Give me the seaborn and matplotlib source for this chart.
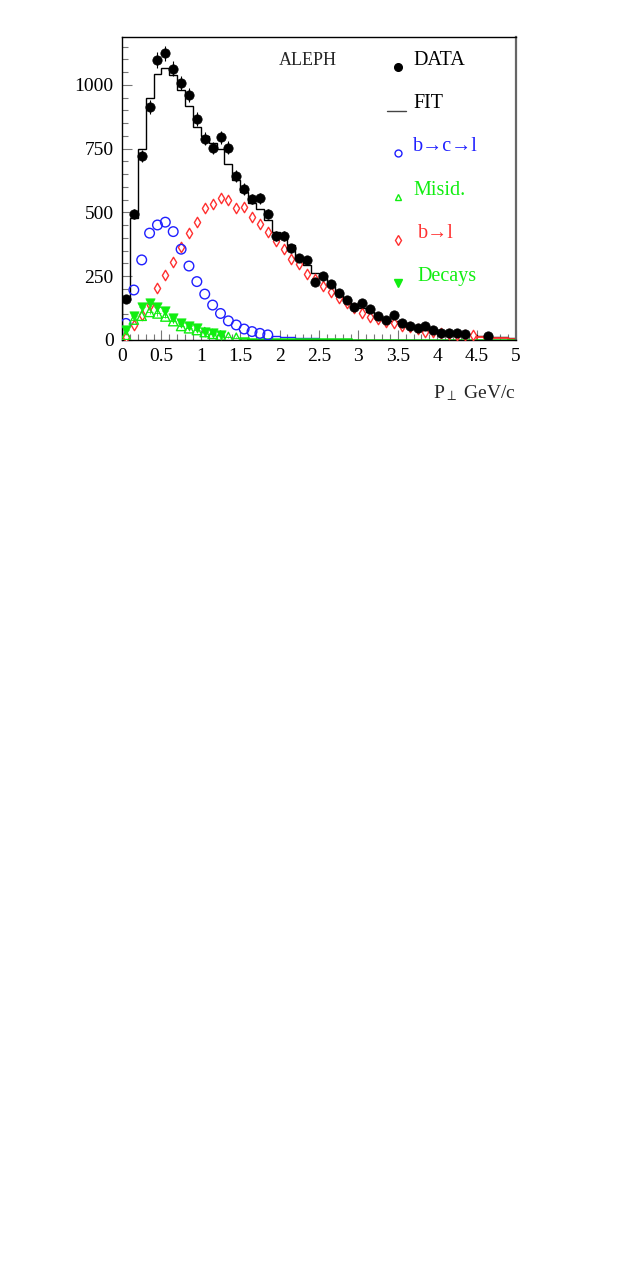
import numpy as np
import pandas as pd
import seaborn as sns
import matplotlib
matplotlib.use('Agg')
import matplotlib.pyplot as plt
from matplotlib.ticker import MultipleLocator

# values (bins of 0.1 GeV/c) ------------------------------------------------
data_x = [0.05, 0.15, 0.25, 0.35, 0.45, 0.55, 0.65, 0.75, 0.85, 0.95,
          1.05, 1.15, 1.25, 1.35, 1.45, 1.55, 1.65, 1.75, 1.85, 1.95,
          2.05, 2.15, 2.25, 2.35, 2.45, 2.55, 2.65, 2.75, 2.85, 2.95,
          3.05, 3.15, 3.25, 3.35, 3.45, 3.55, 3.65, 3.75, 3.85, 3.95,
          4.05, 4.15, 4.25, 4.35, 4.65]
data_y = [160, 494, 722, 915, 1098, 1124, 1063, 1007, 960, 866,
          789, 752, 795, 754, 643, 592, 553, 556, 495, 408,
          408, 360, 320, 314, 229, 251, 218, 186, 157, 128,
          144, 120, 94, 78, 98, 68, 55, 48, 56, 39,
          29, 26, 29, 22, 16]

fit_y = [155, 477, 748, 947, 1042, 1068, 1038, 980, 918, 837,
         800, 774, 748, 692, 627, 579, 536, 514, 471, 425,
         405, 373, 327, 294, 262, 242, 212, 185, 160, 140,
         125, 110, 96, 84, 74, 65, 57, 50, 44, 38,
         33, 29, 26, 23, 20, 17, 15, 13, 11, 6]

bl_y = [13, 59, 98, 137, 203, 255, 307, 364, 419, 464,
        516, 534, 556, 549, 519, 523, 484, 455, 423, 390,
        355, 318, 298, 258, 238, 212, 190, 164, 144, 124,
        105, 91, 81, 72, 65, 55, 50, 42, 33, 30,
        26, 23, 21, 19, 18]
bl_tail = [10, 9, 7, 6, 4]            # red line, bins 4.5-5.0

bcl_y = [65, 196, 314, 419, 451, 462, 425, 356, 290, 229,
         180, 137, 104, 75, 59, 43, 33, 26, 20]
bcl_tail = [16, 13, 11, 9, 7, 6, 5, 4, 3, 2]   # blue line, bins 1.9-2.9

misid_y = [20, 80, 95, 110, 104, 92, 74, 55, 46, 39, 31, 24, 18, 12, 9]
decay_y = [40, 94, 128, 144, 128, 115, 88, 65, 55, 46, 33, 26, 20]
green_tail = [6, 5, 5, 4, 4, 3, 3, 3, 2, 2, 2, 2, 2, 2, 1, 1, 1, 1, 1, 1,
              1, 1, 1, 1, 1, 1, 1, 1, 1, 1, 1, 1, 1, 1, 1]   # bins 1.5-5.0

edges = np.round(np.arange(0, 5.001, 0.1), 2)
centers = edges[:-1] + 0.05

# ---------------------------------------------------------------------------
sns.set_theme(style='ticks')
plt.rcParams['font.family'] = ['Liberation Serif', 'DejaVu Serif']
plt.rcParams['mathtext.fontset'] = 'stix'

fig = plt.figure(figsize=(6.38, 12.64), dpi=100)
ax = fig.add_axes([122 / 638, 1 - 340 / 1264, 394 / 638, 303 / 1264])

blue = '#1f1fff'
red = '#ff3030'
green = '#11ee11'

# fit histogram and component tails
ax.stairs(fit_y, edges, color='black', lw=1.0, zorder=2)
ax.stairs(bl_tail, edges[45:], color=red, lw=1.3, zorder=2)
ax.stairs(bcl_tail, edges[19:30], color=blue, lw=1.0, zorder=2)
ax.stairs(green_tail, edges[15:], color=green, lw=1.8, zorder=2)

# components
n = len(bl_y)
ax.errorbar(centers[:n], bl_y, xerr=0.03, yerr=np.sqrt(bl_y) * 0.6, fmt='none',
            ecolor=red, elinewidth=0.6, zorder=3)
sns.scatterplot(x=centers[:n], y=bl_y, marker='d', s=28, facecolor='white',
                edgecolor=red, linewidth=1.0, ax=ax, zorder=4)

n = len(bcl_y)
sns.scatterplot(x=centers[:n], y=bcl_y, marker='o', s=48, facecolor='none',
                edgecolor=blue, linewidth=1.0, ax=ax, zorder=4)

n = len(misid_y)
ax.errorbar(centers[:n], misid_y, xerr=0.04, yerr=np.sqrt(misid_y) * 0.8, fmt='none',
            ecolor=green, elinewidth=0.6, zorder=3)
sns.scatterplot(x=centers[:n], y=misid_y, marker='^', s=45, facecolor='none',
                edgecolor=green, linewidth=1.0, ax=ax, zorder=4)

n = len(decay_y)
ax.errorbar(centers[:n], decay_y, xerr=0.04, yerr=np.sqrt(decay_y) * 0.8, fmt='none',
            ecolor=green, elinewidth=0.6, zorder=3)
sns.scatterplot(x=centers[:n], y=decay_y, marker='v', s=45, color=green,
                edgecolor=green, linewidth=0.5, ax=ax, zorder=5)

# data
ax.errorbar(data_x, data_y, xerr=0.03, yerr=np.sqrt(data_y) * 0.9, fmt='none',
            ecolor='black', elinewidth=0.8, zorder=5)
sns.scatterplot(x=data_x, y=data_y, marker='o', s=45, color='black',
                edgecolor='black', ax=ax, zorder=6)

# axes
ax.set_xlim(0, 5)
ax.set_ylim(0, 1188)
ax.xaxis.set_major_locator(MultipleLocator(0.5))
ax.xaxis.set_minor_locator(MultipleLocator(0.1))
ax.yaxis.set_major_locator(MultipleLocator(250))
ax.yaxis.set_minor_locator(MultipleLocator(50))
ax.set_xticks(np.arange(0, 5.01, 0.5))
ax.set_xticklabels(['0', '0.5', '1', '1.5', '2', '2.5', '3', '3.5', '4', '4.5', '5'])
ax.tick_params(which='both', direction='in', top=False, right=False,
               labelsize=14, colors='black')
ax.tick_params(which='major', length=7, width=0.8, color='#777777')
ax.tick_params(which='minor', length=4, width=0.8, color='#777777')
ax.tick_params(axis='x', pad=6)
ax.tick_params(axis='y', pad=6)
for side in ['left', 'top', 'bottom']:
    ax.spines[side].set_color('black')
    ax.spines[side].set_linewidth(1.0)
ax.spines['right'].set_color('#666666')
ax.spines['right'].set_linewidth(1.6)
ax.set_xlabel('')
ax.set_ylabel('')

ax.text(1.0, -0.175, r'P$_{\perp}$ GeV/c', transform=ax.transAxes,
        ha='right', va='center', fontsize=14)

# legend drawn by hand, as in the reference
ax.text(0.472, 0.924, 'ALEPH', transform=ax.transAxes, ha='center', va='center',
        fontsize=13)
kw = dict(transform=ax.transAxes, ha='left', va='center', fontsize=14.5)
ax.plot([0.70], [0.901], 'o', color='black', ms=5.5, transform=ax.transAxes)
ax.text(0.739, 0.924, 'DATA', color='black', **kw)
ax.plot([0.672, 0.722], [0.756, 0.756], '-', color='#444444', lw=1.0,
        transform=ax.transAxes)
ax.text(0.739, 0.782, 'FIT', color='black', **kw)
ax.plot([0.70], [0.617], 'o', mfc='none', mec=blue, ms=5, mew=1.0,
        transform=ax.transAxes)
ax.text(0.739, 0.637, 'b\u2192c\u2192l', color=blue, **kw)
ax.plot([0.70], [0.472], '^', mfc='none', mec=green, ms=5, mew=1.0,
        transform=ax.transAxes)
ax.text(0.739, 0.495, 'Misid.', color=green, **kw)
ax.plot([0.70], [0.330], 'd', mfc='none', mec=red, ms=5, mew=1.0,
        transform=ax.transAxes)
ax.text(0.751, 0.350, 'b\u2192l', color=red, **kw)
ax.plot([0.70], [0.188], 'v', color=green, ms=5.5, transform=ax.transAxes)
ax.text(0.751, 0.208, 'Decays', color=green, **kw)

fig.savefig('out.png', dpi=100, facecolor='white')
